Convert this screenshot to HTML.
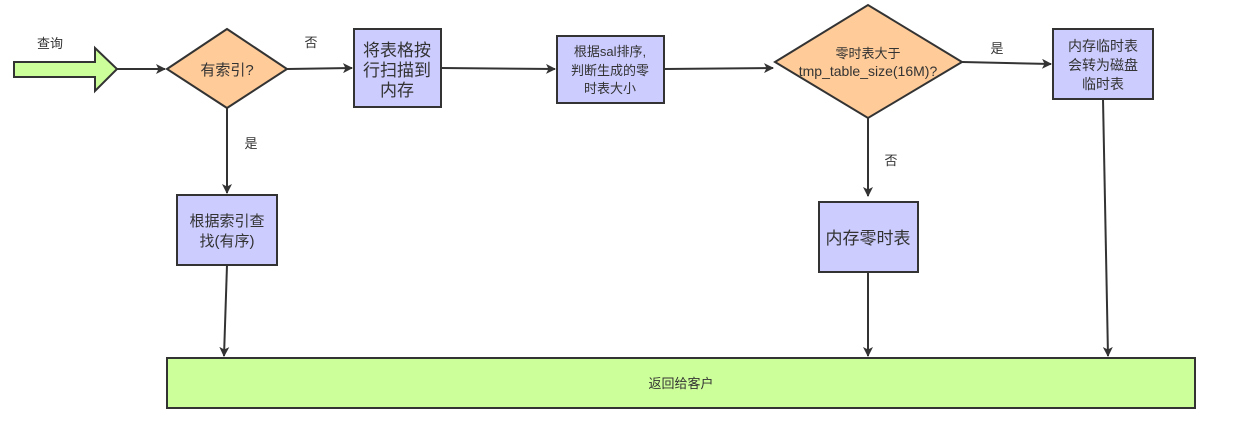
<!DOCTYPE html>
<html><head><meta charset="utf-8"><style>
html,body{margin:0;padding:0;background:#fff;}
svg{display:block;}
text{font-family:"Liberation Sans","Noto Sans CJK SC",sans-serif;fill:#333;text-anchor:middle;}
</style></head><body>
<svg width="1240" height="431" viewBox="0 0 1240 431" xmlns="http://www.w3.org/2000/svg">
<defs>
<marker id="a" markerWidth="10" markerHeight="10" refX="9" refY="5" orient="auto" markerUnits="userSpaceOnUse">
<path d="M0,0 L10,5 L0,10 L2.5,5 Z" fill="#333"/>
</marker>
</defs>
<g stroke="#333" stroke-width="2" fill="none">
<line x1="117" y1="69" x2="165" y2="69" marker-end="url(#a)"/>
<line x1="287" y1="69" x2="352" y2="68" marker-end="url(#a)"/>
<line x1="441" y1="68" x2="555" y2="69" marker-end="url(#a)"/>
<line x1="664" y1="69" x2="773" y2="68" marker-end="url(#a)"/>
<line x1="962" y1="62" x2="1051" y2="64" marker-end="url(#a)"/>
<line x1="227" y1="108" x2="227" y2="193" marker-end="url(#a)"/>
<line x1="868" y1="118" x2="868" y2="196" marker-end="url(#a)"/>
<line x1="227" y1="265" x2="224" y2="356" marker-end="url(#a)"/>
<line x1="868" y1="272" x2="868" y2="356" marker-end="url(#a)"/>
<line x1="1103" y1="99" x2="1108" y2="356" marker-end="url(#a)"/>
</g>
<path d="M14,62 L95,62 L95,48 L117,69 L95,91 L95,77 L14,77 Z" fill="#ccff99" stroke="#333" stroke-width="2"/>
<path d="M167,69 L227,29 L287,69 L227,108 Z" fill="#ffcc99" stroke="#333" stroke-width="2"/>
<path d="M775,62 L868,5 L962,62 L868,118 Z" fill="#ffcc99" stroke="#333" stroke-width="2"/>
<g fill="#ccccff" stroke="#333" stroke-width="2">
<rect x="354" y="29" width="87" height="78"/>
<rect x="557" y="36" width="107" height="67"/>
<rect x="1053" y="29" width="100" height="70"/>
<rect x="177" y="195" width="100" height="70"/>
<rect x="819" y="202" width="99" height="70"/>
<rect x="167" y="358" width="1028" height="50" fill="#ccff99"/>
</g>
<text x="50" y="48" font-size="13">查询</text>
<text x="227" y="75" font-size="15">有索引?</text>
<text x="311" y="47" font-size="13">否</text>
<text x="251" y="148" font-size="13">是</text>
<text x="397" y="56" font-size="17">将表格按</text>
<text x="397" y="76" font-size="17">行扫描到</text>
<text x="397" y="96" font-size="17">内存</text>
<text x="610" y="56" font-size="13">根据sal排序,</text>
<text x="610" y="75" font-size="13">判断生成的零</text>
<text x="610" y="93" font-size="13">时表大小</text>
<text x="868" y="58" font-size="13">零时表大于</text>
<text x="868" y="76" font-size="14">tmp_table_size(16M)?</text>
<text x="997" y="53" font-size="13">是</text>
<text x="1103" y="51" font-size="14">内存临时表</text>
<text x="1103" y="70" font-size="14">会转为磁盘</text>
<text x="1103" y="89" font-size="14">临时表</text>
<text x="891" y="165" font-size="13">否</text>
<text x="227" y="226" font-size="15">根据索引查</text>
<text x="227" y="246" font-size="15">找(有序)</text>
<text x="868" y="244" font-size="17">内存零时表</text>
<text x="681" y="388" font-size="13">返回给客户</text>
</svg>
</body></html>
